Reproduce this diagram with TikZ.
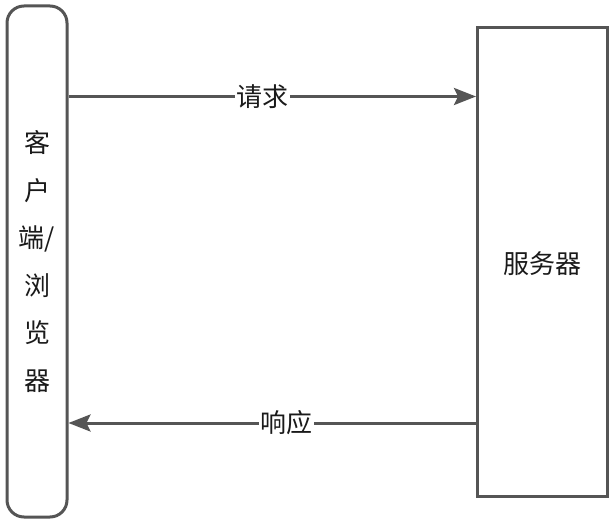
\documentclass[tikz,border=0pt]{standalone}
\usepackage{fontspec}
\setmainfont{Noto Sans CJK SC}
\usetikzlibrary{arrows.meta}
\definecolor{strk}{HTML}{555555}
\definecolor{txt}{HTML}{1A1A1A}
\tikzset{
  box/.style={draw=strk, line width=3pt, fill=white, inner sep=0pt},
  arr/.style={draw=strk, line width=3pt, -{Stealth[length=22pt, width=17pt, inset=4pt]}},
  lbl/.style={fill=white, text=txt, inner xsep=1.5pt, inner ysep=2pt, font=\fontsize{26}{30}\selectfont},
  txtstyle/.style={text=txt, font=\fontsize{26}{30}\selectfont}
}
\begin{document}
\begin{tikzpicture}[x=1pt,y=-1pt]
\useasboundingbox (0,0) rectangle (614,524);
\node[box, rounded corners=17pt, minimum width=60pt, minimum height=511pt] (L) at (37,261.5) {};
\node[box, minimum width=130pt, minimum height=469pt] (R) at (542.5,262) {};
\node[txtstyle, align=center, font=\fontsize{26}{47.5}\selectfont] (Lt) at (37,261.5) {客\\户\\端/\\浏\\览\\器};
\node[txtstyle] (Rt) at (542,263.5) {服务器};
\draw[arr] (L.east |- 0,96.5) -- (R.west |- 0,96.5) node[lbl, pos=0.475] (q) {请求};
\draw[arr] (R.west |- 0,423) -- (L.east |- 0,423) node[lbl, pos=0.465] (r) {响应};
\end{tikzpicture}
\end{document}
